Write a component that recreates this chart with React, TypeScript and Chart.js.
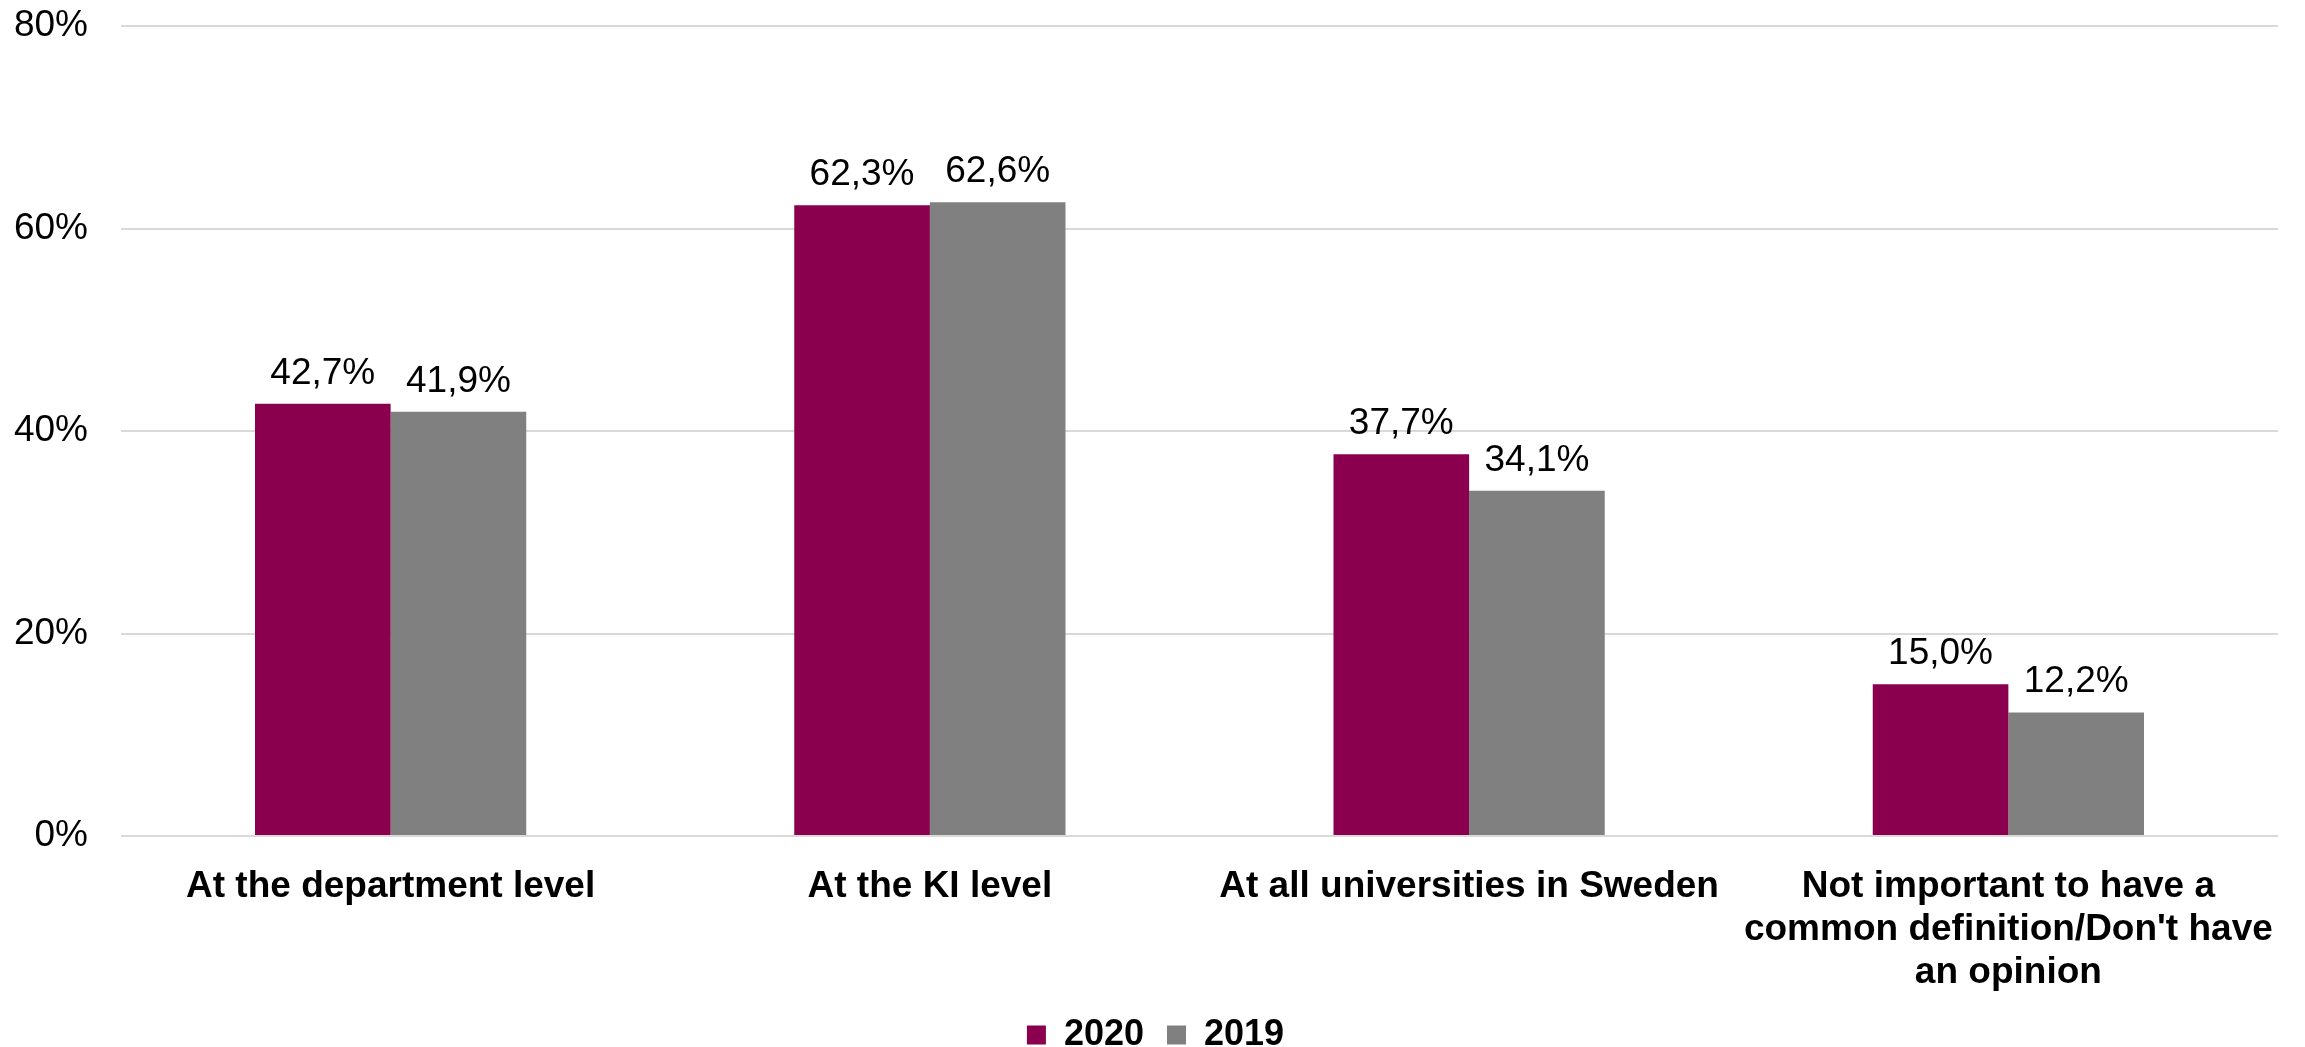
import React, { useEffect, useRef } from "react";
import { Chart, registerables } from "chart.js";

Chart.register(...registerables);

const categories: (string | string[])[] = [
  "At the department level",
  "At the KI level",
  "At all universities in Sweden",
  ["Not important to have a", "common definition/Don't have", "an opinion"],
];
const series2020 = [42.7, 62.3, 37.7, 15.0];
const series2019 = [41.9, 62.6, 34.1, 12.2];
const seriesNames = ["2020", "2019"];
const yTicks = [0, 20, 40, 60, 80];

const FONT = "'Liberation Sans', Arial, sans-serif";

const valueLabels = {
  id: "valueLabels",
  afterDatasetsDraw(chart: any) {
    const ctx = chart.ctx;
    ctx.save();
    ctx.font = `37px ${FONT}`;
    ctx.fillStyle = "#000";
    ctx.textAlign = "center";
    ctx.textBaseline = "alphabetic";
    chart.data.datasets.forEach((ds: any, di: number) => {
      const meta = chart.getDatasetMeta(di);
      meta.data.forEach((bar: any, i: number) => {
        const v = ds.data[i] as number;
        const txt = v.toFixed(1).replace(".", ",") + "%";
        ctx.fillText(txt, bar.x, bar.y - 20);
      });
    });
    ctx.restore();
  },
};

export default function App() {
  const ref = useRef<HTMLCanvasElement>(null);
  useEffect(() => {
    if (!ref.current) return;
    const chart = new Chart(ref.current, {
      type: "bar",
      data: {
        labels: categories,
        datasets: [
          { label: seriesNames[0], data: series2020, backgroundColor: "#8a004f" },
          { label: seriesNames[1], data: series2019, backgroundColor: "#808080" },
        ],
      },
      plugins: [valueLabels],
      options: {
        animation: false,
        responsive: false,
        maintainAspectRatio: false,
        layout: { padding: { top: 0, right: 0, left: 6, bottom: -16 } },
        datasets: { bar: { barPercentage: 1, categoryPercentage: 0.503 } },
        plugins: {
          tooltip: { enabled: false },
          legend: {
            position: "bottom",
            labels: {
              boxWidth: 19,
              boxHeight: 19,
              padding: 23,
              color: "#000",
              font: { family: FONT, size: 36, weight: "bold" },
            },
          },
        },
        scales: {
          x: {
            grid: { display: false },
            border: { display: false },
            ticks: {
              color: "#000",
              autoSkip: false,
              maxRotation: 0,
              minRotation: 0,
              padding: 22,
              font: { family: FONT, size: 37, weight: "bold", lineHeight: 1.15 },
            },
            afterFit: (s: any) => {
              s.height = 158;
              s.paddingLeft = 0;
              s.paddingRight = 27;
            },
          },
          y: {
            min: 0,
            max: 80,
            afterBuildTicks: (s: any) => {
              s.ticks = yTicks.map((v) => ({ value: v }));
            },
            grid: { color: "#d9d9d9", lineWidth: 2, drawTicks: false },
            border: { display: false },
            ticks: {
              color: "#000",
              padding: 33,
              font: { family: FONT, size: 37 },
              callback: (v: any) => v + "%",
            },
            afterFit: (s: any) => {
              s.width = 115;
              s.paddingTop = 26;
              s.paddingBottom = 0;
            },
          },
        },
      },
    });
    return () => chart.destroy();
  }, []);
  return (
    <div style={{ position: "fixed", left: 0, top: 0, width: 2305, height: 1047, background: "#fff" }}>
      <canvas ref={ref} width={2305} height={1047} style={{ display: "block" }} />
    </div>
  );
}
